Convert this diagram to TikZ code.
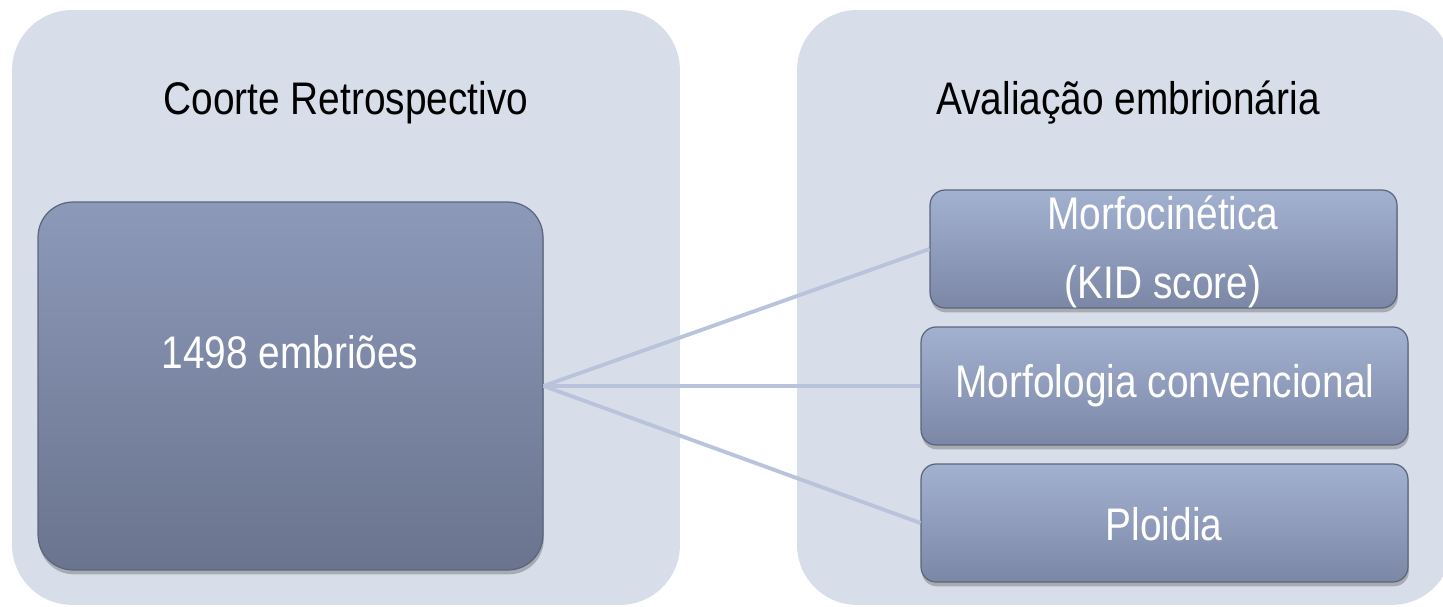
\documentclass[tikz,border=0pt]{standalone}
\usepackage{fontspec}
\setmainfont[FakeStretch=0.85]{Liberation Sans}
\usetikzlibrary{shadows}

\definecolor{panelfill}{RGB}{216,222,233}
\definecolor{linkcol}{RGB}{185,195,220}
\definecolor{bigtop}{RGB}{141,153,185}
\definecolor{bigbot}{RGB}{106,116,142}
\definecolor{smalltop}{RGB}{163,177,208}
\definecolor{smallbot}{RGB}{124,135,166}
\definecolor{boxedge}{RGB}{92,101,126}

\tikzset{
  panel/.style={fill=panelfill, draw=none, rounded corners=1.2cm, inner sep=0pt},
  title/.style={text=black, font=\fontsize{26}{32}\selectfont, inner sep=0pt},
  itembox/.style={draw=boxedge, line width=0.7pt, inner sep=0pt,
    drop shadow={shadow xshift=0.5pt, shadow yshift=-2.5pt, opacity=0.35, fill=black!70}},
  bigbox/.style={itembox, top color=bigtop, bottom color=bigbot, rounded corners=0.7cm},
  smallbox/.style={itembox, top color=smalltop, bottom color=smallbot, rounded corners=0.3cm},
  boxtext/.style={text=white, font=\fontsize{26}{39.7}\selectfont, align=center, inner sep=0pt},
  link/.style={draw=linkcol, line width=2.2pt}
}

\begin{document}
\begin{tikzpicture}[x=0.02cm, y=-0.02cm]
  \useasboundingbox (0,0) rectangle (1443,607);
  \clip (0,0) rectangle (1443,607);

  % two background panels
  \node[panel, minimum width=13.36cm, minimum height=11.9cm] (left) at (346,307.5) {};
  \node[panel, minimum width=13.1cm, minimum height=11.9cm] (right) at (1124.5,307.5) {};

  \node[title] (lefttitle) at (346,103) {Coorte Retrospectivo};
  \node[title] (righttitle) at (1128,103) {Avaliação embrionária};

  % source box
  \node[bigbox, minimum width=10.1cm, minimum height=7.36cm] (big) at (290.5,386) {};
  \node[boxtext] (bigtext) at (290,352) {1498 embriões};

  % evaluation boxes
  \node[smallbox, minimum width=9.34cm, minimum height=2.36cm] (kin) at (1163.5,249) {};
  \node[smallbox, minimum width=9.74cm, minimum height=2.36cm] (morph) at (1164.5,386) {};
  \node[smallbox, minimum width=9.74cm, minimum height=2.36cm] (ploid) at (1164.5,523) {};

  \node[boxtext] (kintext) at (1163,252) {Morfocinética\\(KID score)};
  \node[boxtext] (morphtext) at (1165,386) {Morfologia convencional};
  \node[boxtext] (ploidtext) at (1164,524) {Ploidia};

  % connectors
  \draw[link] (big.east) -- (kin.west);
  \draw[link] (big.east) -- (morph.west);
  \draw[link] (big.east) -- (ploid.west);
\end{tikzpicture}
\end{document}
